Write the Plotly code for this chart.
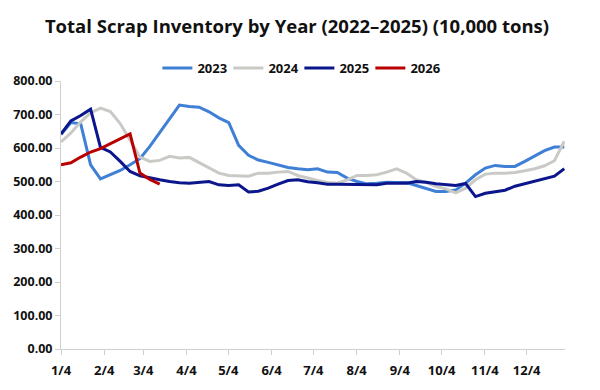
import pandas as pd
import plotly.graph_objects as go

# Weekly points mapped onto a common Jan-4 .. Dec-31 axis
weeks = pd.date_range("2023-01-04", "2023-12-31", periods=52)

tick_dates = ["2023-01-04", "2023-02-04", "2023-03-04", "2023-04-04", "2023-05-04", "2023-06-04",
              "2023-07-04", "2023-08-04", "2023-09-04", "2023-10-04", "2023-11-04", "2023-12-04"]
tick_labels = ["1/4", "2/4", "3/4", "4/4", "5/4", "6/4", "7/4", "8/4", "9/4", "10/4", "11/4", "12/4"]
y_ticks = [0, 100, 200, 300, 400, 500, 600, 700, 800]

s2023 = [640, 676, 672, 550, 508, 520, 533, 550, 568, 605, 645, 688, 728,
         724, 722, 708, 690, 676, 608, 578, 564, 557, 549, 542, 538, 535,
         538, 528, 527, 510, 500, 493, 495, 498, 497, 497, 488, 478, 470,
         470, 475, 495, 520, 540, 548, 545, 545, 560, 575, 592, 603, 603]

s2024 = [618, 645, 678, 705, 719, 709, 673, 625, 573, 560, 563, 575, 570,
         572, 557, 542, 525, 518, 516, 516, 525, 525, 528, 530, 518, 510,
         503, 497, 495, 505, 518, 518, 520, 528, 538, 525, 505, 497, 485,
         478, 466, 480, 505, 522, 525, 525, 527, 532, 538, 547, 562, 620]

s2025 = [642, 681, 697, 716, 602, 588, 560, 530, 517, 510, 505, 500, 496,
         495, 497, 500, 490, 488, 490, 469, 471, 480, 492, 503, 505, 499,
         496, 492, 492, 492, 492, 490, 490, 495, 495, 495, 500, 498, 493,
         490, 488, 494, 455, 465, 469, 474, 486, 494, 501, 508, 516, 538]

s2026 = [550, 556, 573, 588, 598, 612, 627, 642, 525, 506, 492]

series = [
    ("2023", s2023, "#3F7FD6"),
    ("2024", s2024, "#C9CAC6"),
    ("2025", s2025, "#0B168C"),
    ("2026", s2026, "#B80000"),
]

fig = go.Figure()
for name, vals, color in series:
    fig.add_trace(go.Scatter(
        x=weeks[:len(vals)], y=vals, name=name, mode="lines",
        line=dict(color=color, width=3),
    ))

font_family = "Open Sans"
# page body has an 8px margin, so the figure is 8px smaller than the window
W, H = 592, 382
fig.update_layout(
    width=W, height=H,
    margin=dict(l=53, r=35, t=73, b=41, autoexpand=False),
    paper_bgcolor="white", plot_bgcolor="white",
    title=dict(text="<b>Total Scrap Inventory by Year (2022–2025) (10,000 tons)</b>",
               x=289 / W, xanchor="center", y=1 - 19 / H, yanchor="middle",
               font=dict(family=font_family, size=18.5, color="#111111")),
    legend=dict(orientation="h", x=280 / W, xanchor="center", y=1.0485, yanchor="middle",
                font=dict(family=font_family, size=13, color="#111111", weight="bold"),
                itemwidth=30, entrywidth=26, bgcolor="rgba(0,0,0,0)"),
    showlegend=True,
)
fig.update_xaxes(
    type="date", range=["2023-01-04", "2023-12-31 12:00"],
    tickmode="array", tickvals=tick_dates, ticktext=tick_labels,
    showgrid=False, zeroline=False, automargin=False,
    showline=True, linecolor="#D0D0D0", linewidth=1,
    ticks="outside", ticklen=5, tickcolor="#D0D0D0",
    tickfont=dict(family=font_family, size=13, color="#111111", weight="bold"),
    ticklabelstandoff=4,
)
fig.update_yaxes(
    range=[0, 800], tickmode="array", tickvals=y_ticks, tickformat=".2f",
    showgrid=False, zeroline=False, automargin=False,
    showline=True, linecolor="#D0D0D0", linewidth=1,
    ticks="outside", ticklen=5, tickcolor="#D0D0D0",
    tickfont=dict(family=font_family, size=12.5, color="#111111", weight="bold"),
)

fig.write_html("out.html")
